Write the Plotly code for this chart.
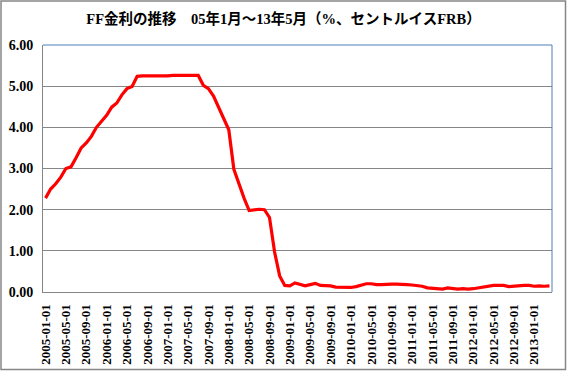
import plotly.graph_objects as go

rates_2005 = [2.28, 2.50, 2.63, 2.79, 3.00, 3.04, 3.26, 3.50, 3.62, 3.78, 4.00, 4.16]
rates_2006 = [4.29, 4.49, 4.59, 4.79, 4.94, 4.99, 5.24, 5.25, 5.25, 5.25, 5.25, 5.24]
rates_2007 = [5.25, 5.26, 5.26, 5.25, 5.25, 5.25, 5.26, 5.02, 4.94, 4.76, 4.49, 4.24]
rates_2008 = [3.94, 2.98, 2.61, 2.28, 1.98, 2.00, 2.01, 2.00, 1.81, 0.97, 0.39, 0.16]
rates_2009 = [0.15, 0.22, 0.18, 0.15, 0.18, 0.21, 0.16, 0.16, 0.15, 0.12, 0.12, 0.12]
rates_2010 = [0.11, 0.13, 0.16, 0.20, 0.20, 0.18, 0.18, 0.19, 0.19, 0.19, 0.19, 0.18]
rates_2011 = [0.17, 0.16, 0.14, 0.10, 0.09, 0.09, 0.07, 0.10, 0.08, 0.07, 0.08, 0.07]
rates_2012 = [0.08, 0.10, 0.13, 0.14, 0.16, 0.16, 0.16, 0.13, 0.14, 0.16, 0.16, 0.16]
rates_2013 = [0.14, 0.15, 0.14, 0.15]

values = rates_2005 + rates_2006 + rates_2007 + rates_2008 + rates_2009 + rates_2010 + rates_2011 + rates_2012 + rates_2013
dates = []
for y in range(2005, 2014):
    for m in range(1, 13):
        dates.append(f"{y}-{m:02d}-01")
dates = dates[:len(values)]
idx = list(range(len(values)))
tick_idx = idx[::4]
tick_text = [dates[i] for i in tick_idx]

SERIF = "Liberation Serif, Times New Roman, serif"

fig = go.Figure()
fig.add_trace(go.Scatter(x=idx, y=values, mode="lines",
                         line=dict(color="#ff0000", width=3.2), hoverinfo="skip"))

L, R, T, B = 43, 15, 45, 79
W, H = 567, 371
pw, ph = W - L - R, H - T - B

fig.update_layout(
    width=W, height=H,
    margin=dict(l=L, r=R, t=T, b=B),
    paper_bgcolor="white", plot_bgcolor="white",
    showlegend=False,
    font=dict(family=SERIF),
    title=dict(text="<b>FF金利の推移　05年1月～13年5月（%、セントルイスFRB）</b>",
               x=0.5, xanchor="center", y=1 - 19 / H, yanchor="middle",
               font=dict(family="Liberation Serif, Noto Sans CJK JP, serif", size=14.5, color="black")),
    xaxis=dict(range=[-0.5, len(values) - 0.5], tickmode="array", tickvals=tick_idx,
               ticktext=["<b>" + t + "</b>" for t in tick_text],
               tickangle=-90, showgrid=False, showline=True, linecolor="#868686", linewidth=1,
               ticks="outside", ticklen=6, tickcolor="rgba(0,0,0,0)", zeroline=False, automargin=False,
               tickfont=dict(family=SERIF, size=13, color="black")),
    yaxis=dict(range=[0, 6], dtick=1, tickformat=".2f", showgrid=True, gridcolor="#868686",
               gridwidth=1, showline=True, linecolor="#868686", linewidth=1, zeroline=False,
               ticks="outside", ticklen=6, tickcolor="rgba(0,0,0,0)", automargin=False,
               tickprefix="<b>", ticksuffix="</b>",
               tickfont=dict(family=SERIF, size=14, color="black")),
)

# plot area border (top and right) in blue-ish
fig.add_shape(type="line", xref="paper", yref="paper", x0=0, x1=1, y0=1, y1=1,
              line=dict(color="#4a7ebb", width=1))
fig.add_shape(type="line", xref="paper", yref="paper", x0=1, x1=1, y0=0, y1=1,
              line=dict(color="#4a7ebb", width=1))
# outer chart border
fig.add_shape(type="rect", xref="paper", yref="paper",
              x0=(-L + 1) / pw, x1=1 + (R - 1.5) / pw, y0=(-B + 1.5) / ph, y1=1 + (T - 1) / ph,
              line=dict(color="#868686", width=1.5), layer="below")

fig.write_html("out.html", config={"displayModeBar": False},
               post_script="document.body.style.margin='0';document.body.style.overflow='hidden';")
